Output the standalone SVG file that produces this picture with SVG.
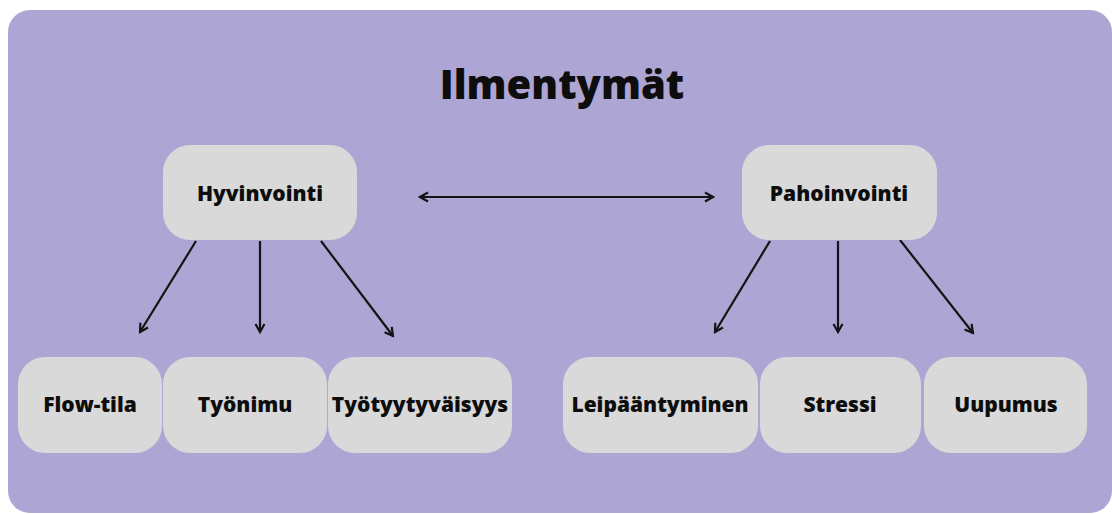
<svg xmlns="http://www.w3.org/2000/svg" width="1112" height="514" viewBox="0 0 1112 514">
  <defs>
    <style>
      .node { fill: #D9D9D9; }
      .lbl { font-family: "Open Sans", "Liberation Sans", sans-serif; font-weight: 800; font-size: 21px; fill: #0d0d0d; text-anchor: middle; }
      .title { font-family: "Open Sans", "Liberation Sans", sans-serif; font-weight: 800; font-size: 40px; fill: #0d0d0d; text-anchor: middle; }
      .edge { stroke: #141414; stroke-width: 2.2; fill: none; }
    </style>
    <marker id="ah" viewBox="0 0 12 12" refX="10" refY="6" markerWidth="12" markerHeight="12" markerUnits="userSpaceOnUse" orient="auto-start-reverse">
      <path d="M2,1.5 L10,6 L2,10.5" fill="none" stroke="#141414" stroke-width="2.2"/>
    </marker>
  </defs>
  <rect x="0" y="0" width="1112" height="514" fill="#ffffff"/>
  <rect id="bg" x="8" y="10" width="1104" height="503" rx="22" fill="#ADA5D3"/>
  <text class="title" x="562" y="99">Ilmentymät</text>

  <g id="connectors">
    <line class="edge" x1="420" y1="197" x2="713" y2="197" marker-start="url(#ah)" marker-end="url(#ah)"/>
    <line class="edge" x1="196" y1="241" x2="140" y2="332" marker-end="url(#ah)"/>
    <line class="edge" x1="260" y1="241" x2="260" y2="332" marker-end="url(#ah)"/>
    <line class="edge" x1="321" y1="241" x2="393" y2="336" marker-end="url(#ah)"/>
    <line class="edge" x1="770" y1="241" x2="715" y2="332" marker-end="url(#ah)"/>
    <line class="edge" x1="838" y1="241" x2="838" y2="332" marker-end="url(#ah)"/>
    <line class="edge" x1="900" y1="240" x2="973" y2="333" marker-end="url(#ah)"/>
  </g>

  <g id="hyvinvointi">
    <rect class="node" x="163" y="145" width="194" height="95" rx="27"/>
    <text class="lbl" x="260" y="201">Hyvinvointi</text>
  </g>
  <g id="pahoinvointi">
    <rect class="node" x="742" y="145" width="195" height="95" rx="27"/>
    <text class="lbl" x="839" y="201">Pahoinvointi</text>
  </g>
  <g id="flow-tila">
    <rect class="node" x="18" y="357" width="144" height="96" rx="27"/>
    <text class="lbl" x="90" y="412">Flow-tila</text>
  </g>
  <g id="tyonimu">
    <rect class="node" x="163" y="357" width="164" height="96" rx="27"/>
    <text class="lbl" x="245" y="412">Työnimu</text>
  </g>
  <g id="tyotyytyvaisyys">
    <rect class="node" x="328" y="357" width="184" height="96" rx="27"/>
    <text class="lbl" x="420" y="412">Työtyytyväisyys</text>
  </g>
  <g id="leipaantyminen">
    <rect class="node" x="563" y="357" width="195" height="96" rx="27"/>
    <text class="lbl" x="660" y="412">Leipääntyminen</text>
  </g>
  <g id="stressi">
    <rect class="node" x="760" y="357" width="161" height="96" rx="27"/>
    <text class="lbl" x="840" y="412">Stressi</text>
  </g>
  <g id="uupumus">
    <rect class="node" x="924" y="357" width="163" height="96" rx="27"/>
    <text class="lbl" x="1006" y="412">Uupumus</text>
  </g>
</svg>
